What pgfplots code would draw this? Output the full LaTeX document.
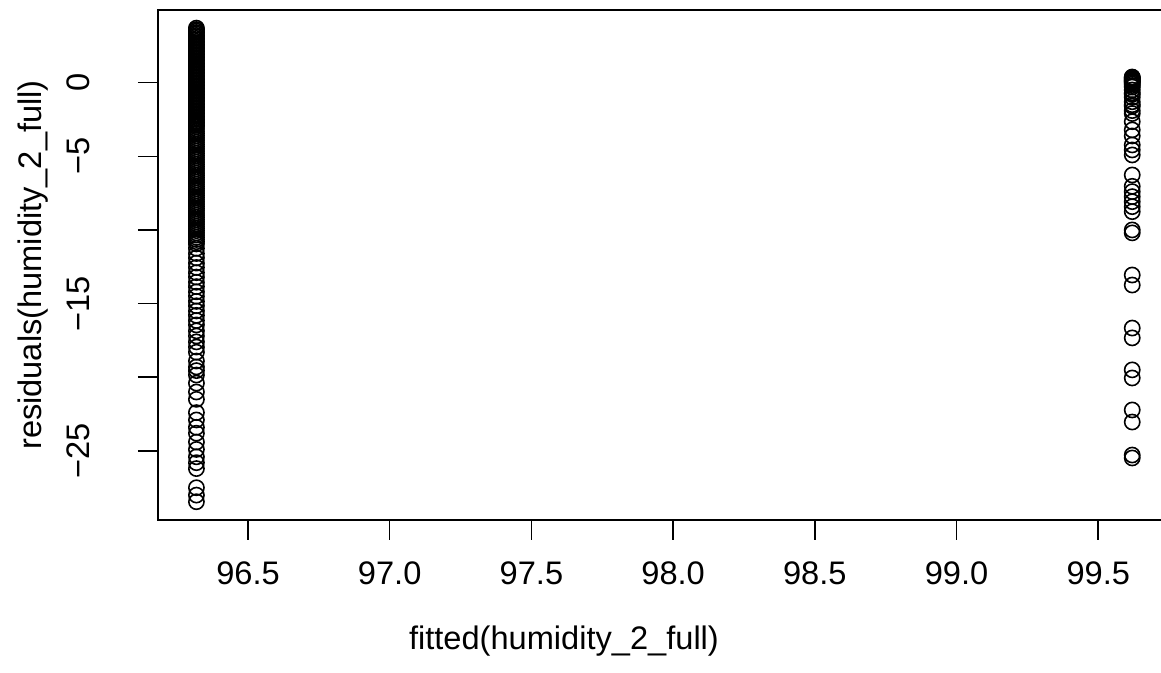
\documentclass[border=0pt]{standalone}
\usepackage{pgfplots}
\pgfplotsset{compat=1.18}
\usepackage{pgfplotstable}
\usepackage{fontspec}
\setmainfont{Liberation Sans}

\pgfplotstableread[row sep=\\]{
x y\\
96.318 3.7\\ 96.318 3.6\\ 96.318 3.5\\ 96.318 3.4\\ 96.318 3.3\\ 96.318 3.2\\ 96.318 3.1\\ 96.318 3.0\\
96.318 2.9\\ 96.318 2.8\\ 96.318 2.7\\ 96.318 2.6\\ 96.318 2.5\\ 96.318 2.4\\ 96.318 2.3\\ 96.318 2.2\\
96.318 2.1\\ 96.318 2.0\\ 96.318 1.9\\ 96.318 1.8\\ 96.318 1.7\\ 96.318 1.6\\ 96.318 1.5\\ 96.318 1.4\\
96.318 1.3\\ 96.318 1.2\\ 96.318 1.1\\ 96.318 1.0\\ 96.318 0.9\\ 96.318 0.8\\ 96.318 0.7\\ 96.318 0.6\\
96.318 0.5\\ 96.318 0.4\\ 96.318 0.3\\ 96.318 0.2\\ 96.318 0.1\\ 96.318 0.0\\ 96.318 -0.1\\ 96.318 -0.2\\
96.318 -0.3\\ 96.318 -0.4\\ 96.318 -0.5\\ 96.318 -0.6\\ 96.318 -0.7\\ 96.318 -0.8\\ 96.318 -0.9\\ 96.318 -1.0\\
96.318 -1.1\\ 96.318 -1.2\\ 96.318 -1.3\\ 96.318 -1.4\\ 96.318 -1.5\\ 96.318 -1.6\\ 96.318 -1.7\\ 96.318 -1.8\\
96.318 -1.9\\ 96.318 -2.0\\ 96.318 -2.1\\ 96.318 -2.2\\ 96.318 -2.3\\ 96.318 -2.4\\ 96.318 -2.5\\ 96.318 -2.6\\
96.318 -2.7\\ 96.318 -2.8\\ 96.318 -2.9\\ 96.318 -3.0\\
96.318 -3.15\\ 96.318 -3.3\\ 96.318 -3.45\\ 96.318 -3.6\\ 96.318 -3.75\\ 96.318 -3.9\\ 96.318 -4.05\\ 96.318 -4.2\\
96.318 -4.35\\ 96.318 -4.5\\ 96.318 -4.65\\ 96.318 -4.8\\ 96.318 -4.95\\ 96.318 -5.1\\ 96.318 -5.25\\ 96.318 -5.4\\
96.318 -5.55\\ 96.318 -5.7\\ 96.318 -5.85\\ 96.318 -6.0\\ 96.318 -6.15\\ 96.318 -6.3\\ 96.318 -6.45\\ 96.318 -6.6\\
96.318 -6.75\\ 96.318 -6.9\\ 96.318 -7.05\\ 96.318 -7.2\\ 96.318 -7.35\\ 96.318 -7.5\\ 96.318 -7.65\\ 96.318 -7.8\\
96.318 -7.95\\ 96.318 -8.1\\ 96.318 -8.25\\ 96.318 -8.4\\ 96.318 -8.55\\ 96.318 -8.7\\ 96.318 -8.85\\ 96.318 -9.0\\
96.318 -9.15\\ 96.318 -9.3\\ 96.318 -9.45\\ 96.318 -9.6\\ 96.318 -9.75\\ 96.318 -9.9\\ 96.318 -10.05\\ 96.318 -10.2\\
96.318 -10.35\\ 96.318 -10.5\\ 96.318 -10.65\\ 96.318 -10.8\\ 96.318 -10.95\\
96.318 -11.25\\ 96.318 -11.6\\ 96.318 -11.9\\ 96.318 -12.25\\ 96.318 -12.55\\ 96.318 -12.9\\
96.318 -13.2\\ 96.318 -13.55\\ 96.318 -13.85\\ 96.318 -14.2\\ 96.318 -14.5\\ 96.318 -14.85\\
96.318 -15.15\\ 96.318 -15.5\\ 96.318 -15.8\\ 96.318 -16.15\\ 96.318 -16.45\\
96.318 -16.85\\ 96.318 -17.2\\ 96.318 -17.6\\ 96.318 -17.95\\ 96.318 -18.3\\
96.318 -18.9\\ 96.318 -19.3\\ 96.318 -19.55\\ 96.318 -19.85\\ 96.318 -20.4\\ 96.318 -21.0\\ 96.318 -21.5\\
96.318 -22.4\\ 96.318 -22.9\\ 96.318 -23.4\\ 96.318 -23.8\\ 96.318 -24.4\\ 96.318 -24.9\\ 96.318 -25.4\\
96.318 -25.8\\ 96.318 -26.2\\ 96.318 -27.5\\ 96.318 -28.0\\ 96.318 -28.45\\
}\leftcol

\pgfplotstableread[row sep=\\]{
x y\\
99.62 0.38\\ 99.62 0.35\\ 99.62 0.3\\ 99.62 0.25\\ 99.62 0.2\\ 99.62 0.15\\ 99.62 0.1\\ 99.62 0.05\\
99.62 0.0\\ 99.62 -0.1\\ 99.62 -0.2\\ 99.62 -0.3\\ 99.62 -0.5\\ 99.62 -0.7\\ 99.62 -0.8\\ 99.62 -1.0\\
99.62 -1.3\\ 99.62 -1.5\\ 99.62 -1.6\\ 99.62 -1.9\\ 99.62 -2.1\\ 99.62 -2.65\\ 99.62 -3.21\\ 99.62 -3.62\\
99.62 -4.23\\ 99.62 -4.57\\ 99.62 -4.91\\ 99.62 -6.27\\ 99.62 -7.04\\ 99.62 -7.4\\ 99.62 -7.74\\ 99.62 -8.08\\
99.62 -8.42\\ 99.62 -8.76\\ 99.62 -10.0\\ 99.62 -10.2\\ 99.62 -13.06\\ 99.62 -13.74\\ 99.62 -16.66\\ 99.62 -17.33\\
99.62 -19.5\\ 99.62 -20.05\\ 99.62 -22.22\\ 99.62 -23.04\\ 99.62 -25.28\\ 99.62 -25.48\\
}\rightcol

\begin{document}
\fontsize{16.3}{19}\selectfont
\begin{tikzpicture}
\begin{axis}[
  at={(0,0)}, anchor=south west,
  scale only axis, width=505.8pt, height=255pt,
  xmin=96.1824, xmax=99.7519, ymin=-29.69, ymax=4.93,
  axis line style={line width=0.75pt},
  tick align=outside, major tick length=10pt,
  every tick/.style={black, line width=0.75pt},
  xtick pos=bottom, ytick pos=left,
  xtick={96.5,97,97.5,98,98.5,99,99.5},
  xticklabels={96.5,97.0,97.5,98.0,98.5,99.0,99.5},
  ytick={-25,-20,-15,-10,-5,0},
  yticklabels={−25,{},−15,{},−5,0},
  /pgf/number format/assume math mode=true,
  xticklabel style={anchor=base, yshift=-22.5pt},
  yticklabel style={xshift=-24pt, rotate=90, anchor=base},
  every axis x label/.style={at={(axis description cs:0.4013,0)}, yshift=-65pt, anchor=base},
  every axis y label/.style={at={(axis description cs:0,0.5)}, xshift=-58pt, rotate=90, anchor=base},
  xlabel={fitted(humidity\_2\_full)},
  ylabel={residuals(humidity\_2\_full)},
]
\addplot[only marks, mark=o, mark size=3.8pt, line width=0.8pt, black] table[x=x, y=y] {\leftcol};
\addplot[only marks, mark=o, mark size=3.8pt, line width=0.8pt, black] table[x=x, y=y] {\rightcol};
\end{axis}
\pgfresetboundingbox
\useasboundingbox (-79pt,-76.5pt) rectangle (501.5pt,260pt);
\end{tikzpicture}
\end{document}
